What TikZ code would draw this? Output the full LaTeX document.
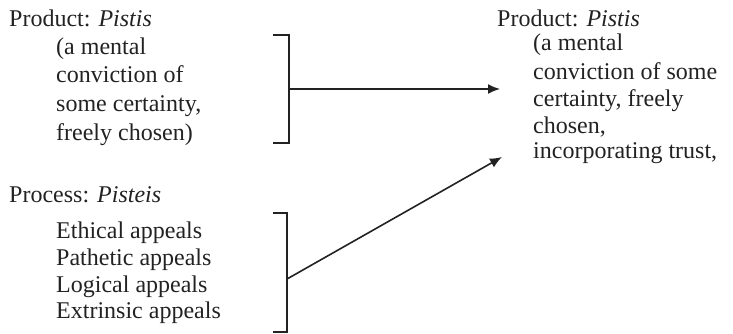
\documentclass[tikz,border=0pt]{standalone}
\usepackage{fontspec}
\setmainfont{Liberation Serif}
\usetikzlibrary{arrows.meta}
\definecolor{ink}{HTML}{222222}
\begin{document}
\begin{tikzpicture}[x=1pt,y=-1pt,
  txt/.style={anchor=base west,inner sep=0pt,text=ink,font=\fontsize{24}{27}\selectfont},
  brk/.style={draw=ink,line width=1.7pt},
  arr/.style={draw=ink,line width=1.6pt,-{Latex[length=12pt,width=10pt]}}]
\useasboundingbox (0,0) rectangle (733,334);
% left top block
\node[txt] (p1) at (9,27) {Product: \textit{Pistis}};
\node[txt] (p1a) at (56,55) {(a mental};
\node[txt] (p1b) at (56,83) {conviction of};
\node[txt] (p1c) at (56,112) {some certainty,};
\node[txt] (p1d) at (56,140) {freely chosen)};
% left bottom block
\node[txt] (q1) at (9,202) {Process: \textit{Pisteis}};
\node[txt] (q1a) at (56,238) {Ethical appeals};
\node[txt] (q1b) at (56,265) {Pathetic appeals};
\node[txt] (q1c) at (56,292) {Logical appeals};
\node[txt] (q1d) at (56,318) {Extrinsic appeals};
% right block
\node[txt] (r1) at (497,27) {Product: \textit{Pistis}};
\node[txt] (r1a) at (533,51) {(a mental};
\node[txt] (r1b) at (533,80) {conviction of some};
\node[txt] (r1c) at (533,107) {certainty, freely};
\node[txt] (r1d) at (533,133) {chosen,};
\node[txt] (r1e) at (533,158) {incorporating trust,};
% brackets
\coordinate (b1a) at (273,35);
\coordinate (b1b) at (289,35);
\coordinate (b1c) at (289,143);
\coordinate (b1d) at (273,143);
\coordinate (b1m) at (289,89);
\coordinate (t1) at (500,89);
\draw[brk] (b1a) -- (b1b) -- (b1c) -- (b1d);
\coordinate (b2a) at (273,213);
\coordinate (b2b) at (287,213);
\coordinate (b2c) at (287,332);
\coordinate (b2d) at (273,332);
\coordinate (b2m) at (287,279);
\coordinate (t2) at (502,157);
\draw[brk] (b2a) -- (b2b) -- (b2c) -- (b2d);
% arrows
\draw[arr] (b1m) -- (t1);
\draw[arr] (b2m) -- (t2);
\end{tikzpicture}
\end{document}
